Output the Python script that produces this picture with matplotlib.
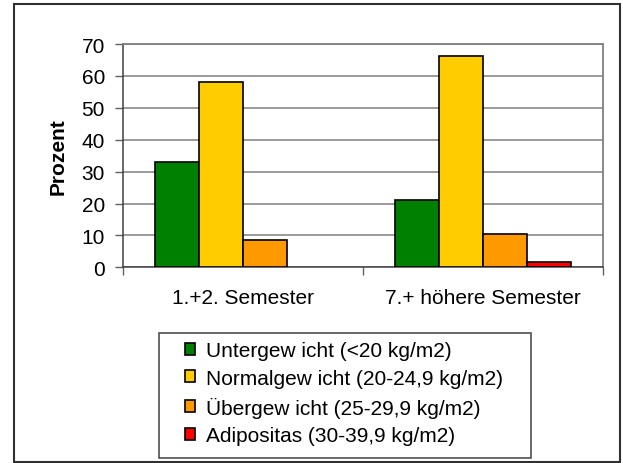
import numpy as np
import matplotlib
matplotlib.use("Agg")
from matplotlib import pyplot as plt
from matplotlib.patches import Rectangle, Patch

# Daten: BMI-Klassen nach Semestergruppe (Prozent)
semester = ["1.+2. Semester", "7.+ höhere Semester"]
klassen = ["Untergew icht (<20 kg/m2)",
           "Normalgew icht (20-24,9 kg/m2)",
           "Übergew icht (25-29,9 kg/m2)",
           "Adipositas (30-39,9 kg/m2)"]
untergewicht = [33.0, 21.1]
normalgewicht = [58.2, 66.3]
uebergewicht = [8.7, 10.4]
adipositas = [0.0, 1.8]
farben = ["#008000", "#FFCC00", "#FF9900", "#FF0000"]

plt.rcParams['font.family'] = ['Liberation Sans', 'DejaVu Sans']
plt.rcParams['font.size'] = 15

W, H = 623, 464
fig = plt.figure(figsize=(W / 100, H / 100), dpi=100)

# Plotbereich in Pixeln: x 123..603, y 45..268
ax = fig.add_axes([123 / W, (H - 268.3) / H, 480 / W, 223.3 / H])

x = np.arange(len(semester))
breite = 0.183
reihen = [untergewicht, normalgewicht, uebergewicht, adipositas]
for i, (werte, farbe) in enumerate(zip(reihen, farben)):
    b = ax.bar(x + (i - 1.5) * breite, werte, breite, color=farbe,
               edgecolor="black", linewidth=1.2, zorder=3)
    # leere Balken ohne Rand
    for p, w in zip(b.patches, werte):
        if w == 0:
            p.set_linewidth(0)

ax.set_xlim(-0.5, 1.5)
ax.set_ylim(0, 70)
ax.set_yticks(range(0, 71, 10))
ax.yaxis.grid(True, color="#808080", linewidth=1.1, zorder=0)

# Kategorien mittig, Striche an den Grenzen
ax.set_xticks([-0.5, 0.5, 1.5])
ax.set_xticklabels([])
ax.set_xticks(x, minor=True)
ax.set_xticklabels(semester, minor=True)
ax.tick_params(axis="x", which="minor", length=0, pad=15)
ax.tick_params(axis="x", which="major", length=6, width=1, color="#606060")
ax.tick_params(axis="y", length=6, width=1, color="#606060", pad=7)

for s in ["top", "right"]:
    ax.spines[s].set_color("#808080")
    ax.spines[s].set_linewidth(1.3)
ax.spines["left"].set_color("#404040")
ax.spines["bottom"].set_color("#404040")
ax.spines["left"].set_linewidth(1.1)
ax.spines["bottom"].set_linewidth(1.1)

ax.set_ylabel("Prozent", fontweight="bold", labelpad=10)

# Rahmen um die ganze Grafik
fig.patches.append(Rectangle((14 / W, 1 / H), 606 / W, 458 / H,
                             transform=fig.transFigure, fill=False,
                             edgecolor="#303030", linewidth=1.5))

# Legendenrahmen
fig.patches.append(Rectangle((159 / W, (H - 459) / H), 372 / W, 125 / H,
                             transform=fig.transFigure, fill=False,
                             edgecolor="#404040", linewidth=1.1))

handles = [Patch(facecolor=f, edgecolor="black", linewidth=1.2) for f in farben]
leg = fig.legend(handles, klassen, loc="upper left",
                 bbox_to_anchor=(185 / W, (H - 342) / H),
                 frameon=False, borderpad=0, borderaxespad=0,
                 handlelength=0.5, handleheight=0.5,
                 handletextpad=0.5, labelspacing=0.42)

fig.savefig("out.png", dpi=100)
